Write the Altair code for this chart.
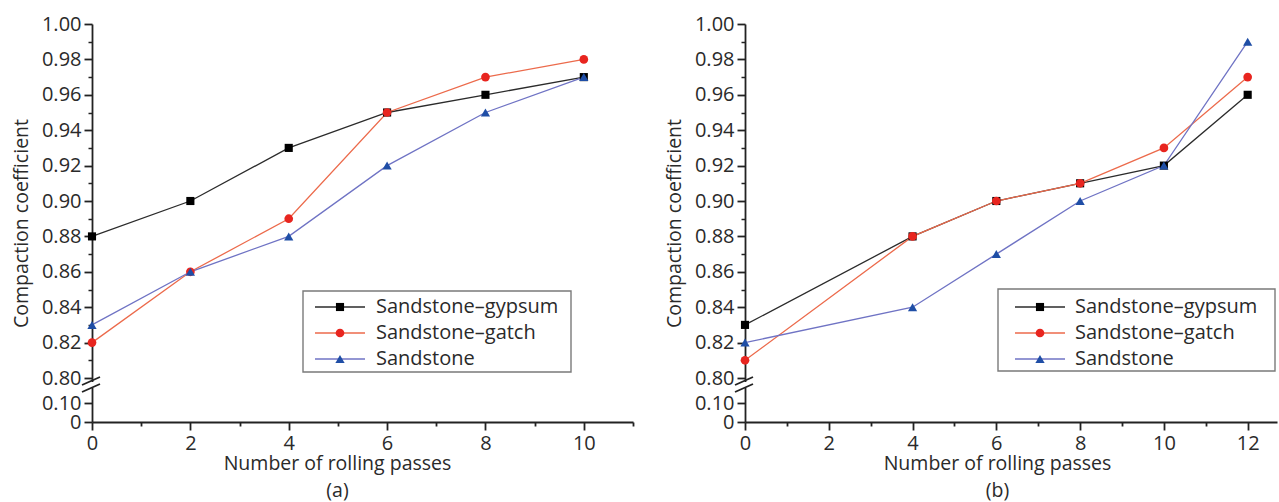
import altair as alt
import pandas as pd

# ---------------- data ----------------
SERIES = ["Sandstone–gypsum", "Sandstone–gatch", "Sandstone"]

A_PASSES = [0, 2, 4, 6, 8, 10]
A_GYPSUM = [0.88, 0.90, 0.93, 0.95, 0.96, 0.97]
A_GATCH = [0.82, 0.86, 0.89, 0.95, 0.97, 0.98]
A_SAND = [0.83, 0.86, 0.88, 0.92, 0.95, 0.97]

B_PASSES = [0, 4, 6, 8, 10, 12]
B_GYPSUM = [0.83, 0.88, 0.90, 0.91, 0.92, 0.96]
B_GATCH = [0.81, 0.88, 0.90, 0.91, 0.93, 0.97]
B_SAND = [0.82, 0.84, 0.87, 0.90, 0.92, 0.99]

Y_MAJOR = [0, 0.10, 0.80, 0.82, 0.84, 0.86, 0.88, 0.90, 0.92, 0.94, 0.96, 0.98, 1.00]
Y_MINOR = [0.81, 0.83, 0.85, 0.87, 0.89, 0.91, 0.93, 0.95, 0.97, 0.99]
A_X_MAJOR = [0, 2, 4, 6, 8, 10]
A_X_MINOR = [1, 3, 5, 7, 9, 11]
B_X_MAJOR = [0, 2, 4, 6, 8, 10, 12]
B_X_MINOR = [1, 3, 5, 7, 9, 11]

X_TITLE = "Number of rolling passes"
Y_TITLE = "Compaction coefficient"

# ---------------- style ----------------
LINE_COLORS = ["#2b2b2b", "#ec6a4b", "#6f73c4"]
MARK_COLORS = ["#000000", "#e8251f", "#1f4ea6"]
SHAPES = ["square", "circle", "triangle-up"]
SIZES = [66, 85, 95]
FONT = "Open Sans"
TXT = "#2a2a2a"
AX = "#222222"

W, H = 1187, 398
Y_SCALE = alt.Scale(domain=[0, 0.10, 0.80, 1.00], range=[H, 379, 354, 0], nice=False, zero=False)

one_row = pd.DataFrame({"k": [0]})


def long_df(passes, cols):
    rows = []
    for name, vals in zip(SERIES, cols):
        for p, v in zip(passes, vals):
            rows.append({"passes": p, "value": v, "series": name})
    return pd.DataFrame(rows)


def panel(passes, cols, xdom, xrng, xmajor, xminor, caption, yoff, title_x, leg):
    df = long_df(passes, cols)
    xs = alt.Scale(domain=xdom, range=xrng, nice=False, zero=False)
    color_line = alt.Color("series:N", scale=alt.Scale(domain=SERIES, range=LINE_COLORS), legend=None)
    color_mark = alt.Color("series:N", scale=alt.Scale(domain=SERIES, range=MARK_COLORS), legend=None)
    shape = alt.Shape("series:N", scale=alt.Scale(domain=SERIES, range=SHAPES), legend=None)
    size = alt.Size("series:N", scale=alt.Scale(domain=SERIES, range=SIZES), legend=None)

    major_x = alt.Axis(values=xmajor, orient="bottom", title=[X_TITLE, caption], grid=False,
                       tickSize=8, tickWidth=1.8, tickColor=AX, domainColor=AX, domainWidth=1.8,
                       labelFontSize=20, labelFont=FONT, labelColor=TXT, labelPadding=3,
                       titleFontSize=19.5, titleFont=FONT, titleColor=TXT, titleFontWeight="normal",
                       titleLineHeight=27, titlePadding=1, titleX=title_x, labelFlush=False)
    major_y = alt.Axis(values=Y_MAJOR, orient="left", offset=yoff, title=Y_TITLE, grid=False,
                       tickSize=8, tickWidth=1.8, tickColor=AX, domainColor=AX, domainWidth=1.8,
                       labelFontSize=20, labelFont=FONT, labelColor=TXT, labelPadding=3,
                       labelExpr="datum.value == 0 ? '0' : format(datum.value, '.2f')",
                       titleFontSize=19.5, titleFont=FONT, titleColor=TXT, titleFontWeight="normal",
                       titlePadding=10, labelFlush=False, labelOverlap=False)
    minor_x = alt.Axis(values=xminor, orient="bottom", title=None, grid=False, labels=False,
                       domain=False, tickSize=4, tickWidth=1.8, tickColor=AX)
    minor_y = alt.Axis(values=Y_MINOR, orient="left", offset=yoff, title=None, grid=False,
                       labels=False, domain=False, tickSize=4, tickWidth=1.5, tickColor=AX)

    lines = alt.Chart(df).mark_line(strokeWidth=1.3).encode(
        x=alt.X("passes:Q", scale=xs, axis=major_x),
        y=alt.Y("value:Q", scale=Y_SCALE, axis=major_y),
        color=color_line,
        detail="series:N",
    )
    points = alt.Chart(df).mark_point(filled=True, opacity=1).encode(
        x=alt.X("passes:Q", scale=xs, axis=minor_x),
        y=alt.Y("value:Q", scale=Y_SCALE, axis=minor_y),
        color=color_mark,
        shape=shape,
        size=size,
    )

    # axis break marks
    ax0 = xrng[0]
    gap = alt.Chart(one_row).mark_rect(color="white").encode(
        x=alt.value(ax0 - 3), x2=alt.value(ax0 + 3), y=alt.value(358), y2=alt.value(364))
    s1 = alt.Chart(one_row).mark_rule(color=AX, strokeWidth=1.8).encode(
        x=alt.value(ax0 - 10), x2=alt.value(ax0 + 8), y=alt.value(361), y2=alt.value(353))
    s2 = alt.Chart(one_row).mark_rule(color=AX, strokeWidth=1.8).encode(
        x=alt.value(ax0 - 10), x2=alt.value(ax0 + 8), y=alt.value(368), y2=alt.value(360))

    # legend
    bx0, bx1, by0, by1, lx0, lx1, tx = leg
    ldf = pd.DataFrame({"series": SERIES, "row": [0, 1, 2]})
    ly = alt.Y("row:Q", scale=alt.Scale(domain=[0, 2], range=[283, 335], nice=False, zero=False), axis=None)
    box = alt.Chart(one_row).mark_rect(fill="white", stroke="#7a7a7a", strokeWidth=1.4).encode(
        x=alt.value(bx0), x2=alt.value(bx1), y=alt.value(by0), y2=alt.value(by1))
    lrule = alt.Chart(ldf).mark_rule(strokeWidth=1.3).encode(
        x=alt.value(lx0), x2=alt.value(lx1), y=ly, color=color_line)
    lpt = alt.Chart(ldf).mark_point(filled=True, opacity=1).encode(
        x=alt.value((lx0 + lx1) / 2), y=ly, color=color_mark, shape=shape, size=size)
    ltxt = alt.Chart(ldf).mark_text(align="left", baseline="middle", fontSize=20, font=FONT,
                                     color=TXT).encode(x=alt.value(tx), y=ly, text="series:N")
    return [lines, points, gap, s1, s2, box, lrule, lpt, ltxt]


layers_a = panel(A_PASSES, [A_GYPSUM, A_GATCH, A_SAND], [0, 11], [0, 541],
                 A_X_MAJOR, A_X_MINOR, "(a)", 0, 245,
                 (211, 479, 267, 348, 223, 273, 284))
layers_b = panel(B_PASSES, [B_GYPSUM, B_GATCH, B_SAND], [0, 12.7], [653, 1185],
                 B_X_MAJOR, B_X_MINOR, "(b)", -653, 905,
                 (906, 1183, 265, 347, 923, 973, 983))

chart = alt.layer(*(layers_a + layers_b)).resolve_scale(
    x="independent", y="independent", color="independent", shape="independent", size="independent"
).resolve_axis(x="independent", y="independent").properties(
    width=W, height=H,
    autosize=alt.AutoSizeParams(type="none"),
    padding={"left": 92, "top": 24, "right": 0, "bottom": 80},
    background="white",
).configure_view(stroke=None)

chart.save("out.html", embed_options={"renderer": "svg", "actions": False})
